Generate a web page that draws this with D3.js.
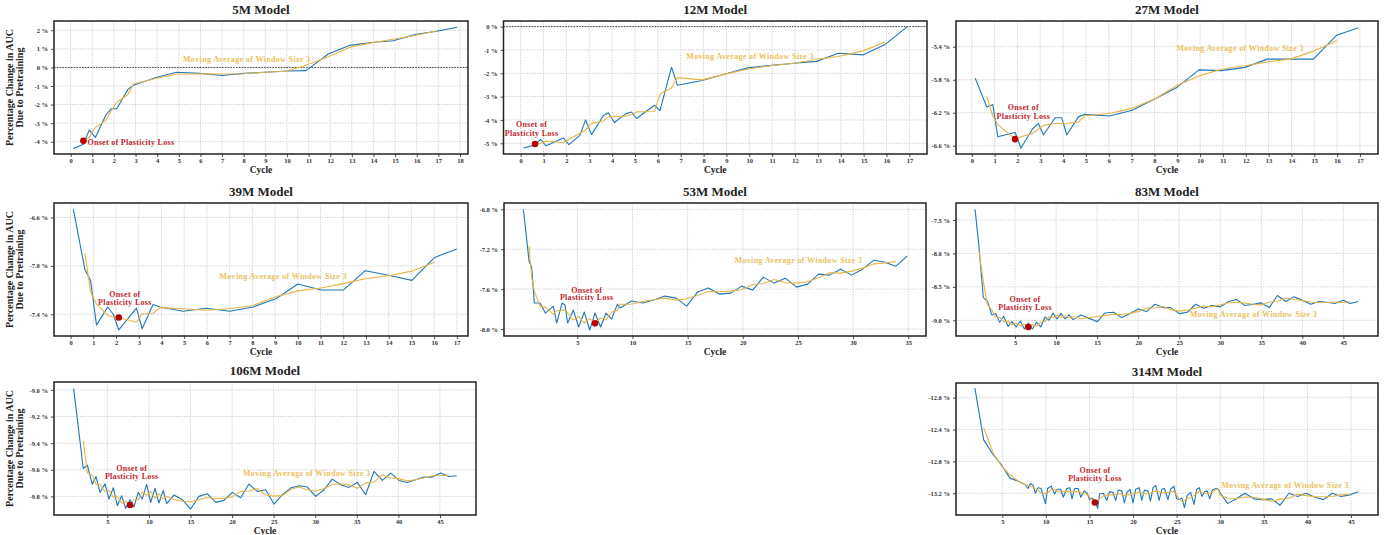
<!DOCTYPE html>
<html><head><meta charset="utf-8">
<script src="https://cdn.jsdelivr.net/npm/d3@7"></script>
<style>
body{margin:0;background:#fff}
svg text{font-family:"Liberation Serif","DejaVu Serif",serif;font-weight:bold}
</style>
</head><body>
<svg id="chart" width="1390" height="535"></svg>
<script>
// ---------------- DATA ----------------
const titles = ["5M Model","12M Model","27M Model","39M Model","53M Model","83M Model","106M Model","314M Model"];

const m5_cycle = [0.12,0.59,0.86,1.14,1.63,1.88,2.13,2.65,2.9,3.98,4.9,5.98,6.98,7.98,8.98,9.98,10.88,11.91,12.91,13.91,14.91,15.92,16.92,17.87];
const m5_auc   = [-4.36,-4.13,-3.37,-3.77,-2.56,-2.22,-2.22,-1.18,-0.96,-0.53,-0.26,-0.32,-0.43,-0.32,-0.26,-0.19,-0.17,0.72,1.19,1.34,1.44,1.77,1.95,2.16];

const m12_cycle = [0.12,0.63,0.87,1.11,1.87,2.11,2.59,2.84,3.1,3.62,3.83,4.1,4.59,4.85,5.07,5.85,6.09,6.6,6.85,7.94,8.94,9.93,10.98,11.95,12.94,13.89,14.99,15.93,16.91];
const m12_auc   = [-5.2,-5.07,-4.83,-5.11,-4.77,-5.06,-4.66,-4.0,-4.63,-3.81,-3.69,-4.11,-3.74,-3.66,-3.94,-3.37,-3.6,-1.74,-2.51,-2.31,-2.03,-1.77,-1.66,-1.57,-1.49,-1.14,-1.21,-0.77,0.0];

const m27_cycle = [0.15,0.66,0.92,1.14,1.9,2.15,2.65,2.92,3.14,3.65,3.94,4.16,4.67,4.93,6.03,7.03,8.03,9.0,9.95,10.94,11.97,12.94,13.96,14.96,15.98,16.93];
const m27_auc   = [-5.78,-6.13,-6.10,-6.49,-6.44,-6.63,-6.40,-6.33,-6.47,-6.26,-6.26,-6.47,-6.25,-6.22,-6.24,-6.17,-6.03,-5.89,-5.68,-5.69,-5.65,-5.55,-5.55,-5.55,-5.26,-5.17];

const m39_cycle = [0.12,0.63,0.88,1.14,1.63,1.88,2.12,2.9,3.15,3.63,3.93,4.95,5.98,7.0,8.03,9.06,10.0,11.03,12.0,12.97,14.04,15.02,16.02,17.0];
const m39_auc   = [-6.53,-7.03,-7.12,-7.49,-7.34,-7.40,-7.53,-7.35,-7.52,-7.32,-7.34,-7.375,-7.35,-7.375,-7.34,-7.27,-7.15,-7.20,-7.20,-7.04,-7.08,-7.12,-6.93,-6.86];

const m53_cycle = [0.11,0.62,0.86,1.1,1.62,2.1,2.82,3.13,3.61,3.88,4.12,4.64,5.12,5.63,6.12,6.6,7.11,7.6,8.11,8.63,8.87,9.92,10.92,11.93,12.95,13.94,14.91,15.9,16.87,17.87,18.9,19.9,20.89,21.86,22.85,23.85,24.88,25.88,26.87,27.84,28.87,29.86,30.86,31.89,32.88,33.88,34.9];
const m53_auc   = [-6.80,-7.32,-7.38,-7.74,-7.74,-7.84,-7.77,-7.94,-7.74,-7.76,-7.94,-7.81,-7.98,-7.83,-8.01,-7.84,-7.98,-7.84,-7.90,-7.75,-7.79,-7.72,-7.74,-7.71,-7.67,-7.69,-7.77,-7.63,-7.59,-7.65,-7.64,-7.57,-7.61,-7.48,-7.54,-7.49,-7.58,-7.55,-7.45,-7.46,-7.40,-7.46,-7.40,-7.31,-7.33,-7.37,-7.27];

const m83_cycle = [0.13,0.61,1.14,1.63,2.16,2.64,3.13,3.62,4.15,4.63,5.12,5.65,6.14,6.62,7.11,7.64,8.13,8.65,9.14,9.63,10.12,10.6,11.09,11.58,12.07,13.04,15.03,15.96,17.02,18.0,19.02,20.03,21.0,22.06,23.03,23.96,25.02,25.99,27.01,27.98,28.96,30.02,31.0,32.0,33.02,34.04,34.97,35.98,36.96,37.97,38.99,40.0,41.02,42.04,42.97,43.99,45.0,45.8,46.83];
const m83_auc   = [-7.34,-7.9,-8.66,-8.71,-8.92,-8.90,-9.03,-8.94,-9.09,-9.02,-9.10,-9.01,-9.13,-9.04,-9.13,-9.03,-9.10,-8.95,-9.00,-8.89,-8.98,-8.90,-8.98,-8.92,-8.99,-8.92,-9.02,-8.89,-8.88,-8.96,-8.90,-8.83,-8.87,-8.76,-8.81,-8.81,-8.90,-8.88,-8.76,-8.82,-8.78,-8.80,-8.72,-8.69,-8.78,-8.76,-8.74,-8.81,-8.63,-8.72,-8.65,-8.70,-8.76,-8.72,-8.73,-8.75,-8.70,-8.75,-8.72];

const m106_cycle = [0.95,2.11,2.6,3.2,3.64,4.12,4.72,5.2,5.72,6.2,6.72,7.2,7.73,8.2,8.72,9.2,9.73,10.21,10.73,11.21,11.73,12.13,13.02,14.02,15.02,16.02,17.02,18.03,19.03,20.03,21.03,22.03,23.04,24.04,25.04,26.04,27.04,28.05,29.05,30.05,31.05,32.05,33.06,34.06,35.06,36.06,37.06,38.07,39.07,40.07,41.07,42.07,43.08,44.08,45.08,46.08,47.0];
const m106_auc   = [-8.99,-9.59,-9.565,-9.71,-9.65,-9.77,-9.705,-9.82,-9.735,-9.87,-9.795,-9.89,-9.825,-9.88,-9.77,-9.82,-9.71,-9.845,-9.74,-9.85,-9.755,-9.855,-9.79,-9.825,-9.895,-9.80,-9.78,-9.845,-9.83,-9.77,-9.81,-9.7075,-9.7625,-9.75,-9.8575,-9.7875,-9.7375,-9.72,-9.73,-9.80,-9.75,-9.67,-9.7125,-9.7325,-9.695,-9.7875,-9.6125,-9.68,-9.625,-9.68,-9.695,-9.675,-9.655,-9.655,-9.625,-9.65,-9.645];

const m314_cycle = [1.86,2.86,3.97,4.92,5.88,6.84,7.6,7.95,8.2,8.55,8.8,9.1,9.45,9.95,10.2,10.6,11.0,11.3,11.7,12.0,12.4,12.75,13.0,13.3,13.7,14.0,14.4,14.75,15.0,15.3,15.63,15.95,16.15,16.6,17.0,17.3,17.7,18.0,18.3,18.7,19.0,19.3,19.65,20.0,20.3,20.7,21.0,21.3,21.7,22.0,22.3,22.6,23.0,23.3,23.6,24.0,24.3,24.7,25.0,25.3,25.6,25.9,26.2,26.6,27.0,27.3,27.6,27.9,28.2,28.5,28.8,29.1,29.5,29.8,29.97,30.85,31.85,32.84,33.87,34.83,35.9,36.86,37.89,38.88,39.84,40.87,41.83,42.86,43.85,44.88,45.84];
const m314_auc   = [-11.88,-12.53,-12.72,-12.845,-13.01,-13.05,-13.09,-13.14,-13.08,-13.10,-13.20,-13.13,-13.14,-13.33,-13.14,-13.11,-13.21,-13.15,-13.15,-13.25,-13.14,-13.13,-13.27,-13.14,-13.14,-13.25,-13.17,-13.20,-13.28,-13.26,-13.30,-13.39,-13.21,-13.20,-13.29,-13.18,-13.19,-13.29,-13.16,-13.17,-13.32,-13.19,-13.15,-13.32,-13.15,-13.13,-13.29,-13.16,-13.17,-13.30,-13.13,-13.10,-13.29,-13.15,-13.14,-13.28,-13.15,-13.11,-13.27,-13.28,-13.26,-13.38,-13.23,-13.19,-13.34,-13.15,-13.13,-13.24,-13.18,-13.17,-13.27,-13.16,-13.14,-13.15,-13.19,-13.33,-13.27,-13.20,-13.27,-13.28,-13.27,-13.35,-13.20,-13.24,-13.20,-13.25,-13.28,-13.20,-13.24,-13.22,-13.18];

// onset of plasticity loss (cycle at which it is marked)
const onsetCycle = [0.59,0.63,1.9,2.12,6.6,6.62,7.73,15.63];

// tick values / labels
const xt_0_18 = [0,1,2,3,4,5,6,7,8,9,10,11,12,13,14,15,16,17,18];
const xt_0_17 = [0,1,2,3,4,5,6,7,8,9,10,11,12,13,14,15,16,17];
const xt_5_35 = [5,10,15,20,25,30,35];
const xt_5_45 = [5,10,15,20,25,30,35,40,45];
const yt_5   = [-4,-3,-2,-1,0,1,2];
const ytl_5  = ["-4 %","-3 %","-2 %","-1 %","0 %","1 %","2 %"];
const yt_12  = [-5,-4,-3,-2,-1,0];
const ytl_12 = ["-5 %","-4 %","-3 %","-2 %","-1 %","0 %"];
const yt_27  = [-6.6,-6.2,-5.8,-5.4];
const ytl_27 = ["-6.6 %","-6.2 %","-5.8 %","-5.4 %"];
const yt_39  = [-7.4,-7.0,-6.6];
const ytl_39 = ["-7.4 %","-7.0 %","-6.6 %"];
const yt_53  = [-8.0,-7.6,-7.2,-6.8];
const ytl_53 = ["-8.0 %","-7.6 %","-7.2 %","-6.8 %"];
const yt_83  = [-9.0,-8.5,-8.0,-7.5];
const ytl_83 = ["-9.0 %","-8.5 %","-8.0 %","-7.5 %"];
const yt_106 = [-9.8,-9.6,-9.4,-9.2,-9.0];
const ytl_106= ["-9.8 %","-9.6 %","-9.4 %","-9.2 %","-9.0 %"];
const yt_314 = [-13.2,-12.8,-12.4,-12.0];
const ytl_314= ["-13.2 %","-12.8 %","-12.4 %","-12.0 %"];

const xLabel = "Cycle";
const yLabel = ["Percentage Change in AUC","Due to Pretraining"];
const onsetText = ["Onset of","Plasticity Loss"];
const maText = "Moving Average of Window Size 3";

// ---------------- LAYOUT / STYLE ----------------
const panels = [
 {cx:m5_cycle,  cy:m5_auc,  xt:xt_0_18, yt:yt_5,  ytl:ytl_5,  box:[54,468,21,154],   xd:[-0.77,18.37], yd:[-4.66,2.50],   zero:true,  ylab:true,  onsetInline:true, ma:[8.14,0.40]},
 {cx:m12_cycle, cy:m12_auc, xt:xt_0_17, yt:yt_12, ytl:ytl_12, box:[503.5,927,21,154], xd:[-0.75,17.77], yd:[-5.46,0.24],   zero:true,  on:[0.48,-4.24,-4.6],   ma:[10.03,-1.29]},
 {cx:m27_cycle, cy:m27_auc, xt:xt_0_17, yt:yt_27, ytl:ytl_27, box:[956,1378,21,154],  xd:[-0.69,17.79], yd:[-6.70,-5.088], on:[2.26,-6.147,-6.248], ma:[11.75,-5.43]},
 {cx:m39_cycle, cy:m39_auc, xt:xt_0_17, yt:yt_39, ytl:ytl_39, box:[54,468,203,336],   xd:[-0.73,17.49], yd:[-7.58,-6.48],  ylab:true, on:[2.39,-7.243,-7.306], ma:[9.35,-7.09]},
 {cx:m53_cycle, cy:m53_auc, xt:xt_5_35, yt:yt_53, ytl:ytl_53, box:[504,926,203,336],  xd:[-1.65,36.61], yd:[-8.07,-6.737], on:[5.85,-7.619,-7.693], ma:[25.03,-7.325]},
 {cx:m83_cycle, cy:m83_auc, xt:xt_5_45, yt:yt_83, ytl:ytl_83, box:[956,1378,203,336], xd:[-2.19,49.22], yd:[-9.235,-7.246],on:[6.22,-8.706,-8.826], ma:[34.04,-8.92]},
 {cx:m106_cycle,cy:m106_auc,xt:xt_5_45, yt:yt_106,ytl:ytl_106,box:[54,476,382,515],   xd:[-1.41,49.33], yd:[-9.94,-8.94],  ylab:true, on:[7.93,-9.595,-9.655], ma:[28.97,-9.63]},
 {cx:m314_cycle,cy:m314_auc,xt:xt_5_45, yt:yt_314,ytl:ytl_314,box:[956,1378,383,515], xd:[-0.31,48.1],  yd:[-13.473,-11.816],on:[15.63,-12.928,-13.024], ma:[37.43,-13.116]}
];

const BLUE = "#1f77b4", GOLD = "#e8b446", GOLD_TXT = "#ecbf5e", RED = "#b80000", RED_TXT = "#c3262c";

const svg = d3.select("#chart");

panels.forEach((p, k) => {
  const [L,R,T,B] = p.box;
  const x = d3.scaleLinear().domain(p.xd).range([L,R]);
  const y = d3.scaleLinear().domain(p.yd).range([B,T]);
  const g = svg.append("g");

  // grid
  g.append("g").selectAll("line").data(p.xt).join("line")
    .attr("x1", d=>x(d)).attr("x2", d=>x(d)).attr("y1", T).attr("y2", B)
    .attr("stroke","#c4c4c4").attr("stroke-width",0.8).attr("stroke-dasharray","1.3,1.3");
  g.append("g").selectAll("line").data(p.yt).join("line")
    .attr("y1", d=>y(d)).attr("y2", d=>y(d)).attr("x1", L).attr("x2", R)
    .attr("stroke","#c4c4c4").attr("stroke-width",0.8).attr("stroke-dasharray","1.3,1.3");

  if (p.zero) {
    g.append("line").attr("x1",L).attr("x2",R).attr("y1",y(0)).attr("y2",y(0))
      .attr("stroke","#222").attr("stroke-width",0.8).attr("stroke-dasharray","1.6,1.2");
  }

  const pts = p.cx.map((c,i)=>[c,p.cy[i]]);
  const line = d3.line().x(d=>x(d[0])).y(d=>y(d[1]));

  // centred moving average, window 3
  const ma = [];
  for (let i=1;i<pts.length-1;i++) ma.push([pts[i][0], d3.mean([pts[i-1][1],pts[i][1],pts[i+1][1]])]);

  g.append("path").datum(pts).attr("d",line).attr("fill","none")
    .attr("stroke",BLUE).attr("stroke-width",1.1).attr("stroke-linejoin","round");
  g.append("path").datum(ma).attr("d",line).attr("fill","none")
    .attr("stroke",GOLD).attr("stroke-width",1.1).attr("stroke-linejoin","round");

  // onset marker
  const oi = d3.minIndex(ma, d=>Math.abs(d[0]-onsetCycle[k]));
  const od = ma[oi];
  g.append("circle").attr("cx",x(od[0])).attr("cy",y(od[1])).attr("r",3.3).attr("fill",RED);

  if (p.onsetInline) {
    g.append("text").attr("x",x(od[0])+4).attr("y",y(od[1])+2).attr("dominant-baseline","middle")
      .attr("font-size",8).attr("letter-spacing",0.3).attr("fill",RED_TXT).text(onsetText.join(" "));
  } else {
    onsetText.forEach((t,j)=>{
      g.append("text").attr("x",x(p.on[0])).attr("y",y(p.on[1+j])).attr("text-anchor","middle")
        .attr("dominant-baseline","middle").attr("font-size",8).attr("letter-spacing",0.3)
        .attr("fill",RED_TXT).text(t);
    });
  }
  g.append("text").attr("x",x(p.ma[0])).attr("y",y(p.ma[1])).attr("text-anchor","middle")
    .attr("dominant-baseline","middle").attr("font-size",8).attr("letter-spacing",0.35)
    .attr("fill",GOLD_TXT).text(maText);

  // axes
  const xa = g.append("g").attr("transform",`translate(0,${B})`)
    .call(d3.axisBottom(x).tickValues(p.xt).tickSize(3).tickPadding(1.5).tickFormat(d3.format("d")));
  const ya = g.append("g").attr("transform",`translate(${L},0)`)
    .call(d3.axisLeft(y).tickValues(p.yt).tickSize(3).tickPadding(3).tickFormat((d,i)=>p.ytl[i]));
  [xa,ya].forEach(a=>{
    a.select(".domain").remove();
    a.selectAll("line").attr("stroke","#222").attr("stroke-width",0.8);
    a.selectAll("text").attr("font-size",6.5).attr("fill","#333")
      .attr("font-family","'Liberation Serif','DejaVu Serif',serif").attr("font-weight","bold");
  });

  // frame
  g.append("rect").attr("x",L).attr("y",T).attr("width",R-L).attr("height",B-T)
    .attr("fill","none").attr("stroke","#222").attr("stroke-width",1.5);

  // title
  svg.append("text").attr("x",(L+R)/2).attr("y",T-10).attr("text-anchor","middle")
    .attr("dominant-baseline","middle").attr("font-size",13).attr("fill","#222").text(titles[k]);
  // x label
  svg.append("text").attr("x",(L+R)/2).attr("y",B+16.5).attr("text-anchor","middle")
    .attr("dominant-baseline","middle").attr("font-size",9.5).attr("fill","#222").text(xLabel);
  // y label
  if (p.ylab) {
    const cyM = (T+B)/2;
    yLabel.forEach((t,j)=>{
      svg.append("text").attr("transform",`translate(${11+j*9.8},${cyM}) rotate(-90)`)
        .attr("text-anchor","middle").attr("dominant-baseline","middle")
        .attr("font-size",10).attr("fill","#222").text(t);
    });
  }
});
</script>
</body></html>
